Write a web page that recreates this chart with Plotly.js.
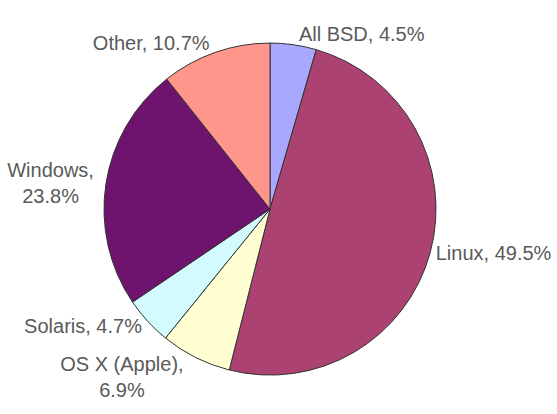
<!DOCTYPE html>
<html>
<head>
<meta charset="utf-8">
<script src="https://cdn.plot.ly/plotly-3.0.1.min.js"></script>
<style>html,body{margin:0;padding:0;background:#fff;}#chart{width:557px;height:414px;}</style>
</head>
<body>
<div id="chart"></div>
<script>
var categories = ["All BSD", "Linux", "OS X (Apple)", "Solaris", "Windows", "Other"];
var shares = [4.5, 49.5, 6.9, 4.7, 23.8, 10.7];
var labelTexts = ["All BSD, 4.5%", "Linux, 49.5%", "OS X (Apple),<br>6.9%", "Solaris, 4.7%", "Windows,<br>23.8%", "Other, 10.7%"];
var sliceColors = ["#A8A8FF", "#AC4272", "#FFFFD2", "#D2FAFF", "#6E146E", "#FF968C"];

var trace = {
  type: "pie",
  labels: categories,
  values: shares,
  text: labelTexts,
  textinfo: "text",
  textposition: "outside",
  sort: false,
  direction: "clockwise",
  rotation: 0,
  hole: 0,
  marker: {colors: sliceColors, line: {color: "#333333", width: 1}},
  outsidetextfont: {family: "Liberation Sans, Arial, sans-serif", size: 20, color: "#5a5a5a"},
  automargin: false,
  domain: {x: [0.1867, 0.7828], y: [0.094, 0.896]},
  showlegend: false
};

var layout = {
  width: 557, height: 414,
  margin: {l: 0, r: 0, t: 0, b: 0},
  paper_bgcolor: "#ffffff",
  showlegend: false
};
Plotly.newPlot("chart", [trace], layout, {displayModeBar: false, staticPlot: true});
</script>
</body>
</html>
